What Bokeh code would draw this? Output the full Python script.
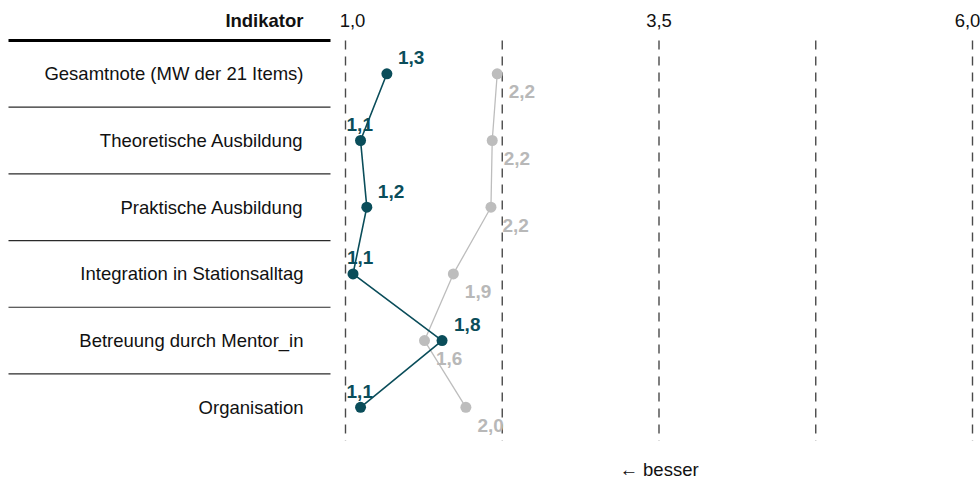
from bokeh.plotting import figure
from bokeh.models import ColumnDataSource, Range1d
from bokeh.core.properties import value
from bokeh.embed import file_html
from bokeh.resources import INLINE

# ---------------- data ----------------
indicators = [
    "Gesamtnote (MW der 21 Items)",
    "Theoretische Ausbildung",
    "Praktische Ausbildung",
    "Integration in Stationsalltag",
    "Betreuung durch Mentor_in",
    "Organisation",
]
teal_values = [1.33, 1.12, 1.17, 1.06, 1.77, 1.12]
gray_values = [2.21, 2.17, 2.16, 1.86, 1.63, 1.96]
tick_values = [1.0, 3.5, 6.0]
tick_labels = ["1,0", "3,5", "6,0"]
grid_values = [1.0, 2.25, 3.5, 4.75, 6.0]
header_text = "Indikator"
axis_note = "← besser"

# ---------------- layout / style ----------------
W, H = 980, 481
X0_PX, PX_PER_UNIT = 345.0, 125.4      # px of x=1.0, px per unit
Y0_PX, ROW_PX = 73.3, 66.7             # px of first row centre, row height
FONT = "Liberation Sans"
TEAL = "#0a4d5a"
GRAY = "#bdbdbd"
GRAY_TXT = "#b8b8b8"
teal_label_dx = [11, -14, 11, -6, 12, -14]
tick_label_dx = [7, 0, -5]


def xd(px):
    return 1.0 + (px - X0_PX) / PX_PER_UNIT


def yd(py):
    return (py - Y0_PX) / ROW_PX


rows = list(range(len(indicators)))

p = figure(
    width=W, height=H, output_backend="svg", toolbar_location=None,
    x_range=Range1d(xd(0), xd(W)), y_range=Range1d(yd(H), yd(0)),
    x_axis_location=None, y_axis_location=None,
    min_border=0, min_border_left=0, min_border_right=0,
    min_border_top=0, min_border_bottom=0,
)
p.outline_line_color = None
p.xgrid.visible = False
p.ygrid.visible = False
p.background_fill_color = "white"
p.border_fill_color = "white"

# table separators
p.segment(x0=[xd(8)] * 5, x1=[xd(330)] * 5, y0=[r + 0.5 for r in rows[:-1]],
          y1=[r + 0.5 for r in rows[:-1]], line_color="#2a2a2a", line_width=1.2)
p.segment(x0=[xd(8)], x1=[xd(330)], y0=[-0.5], y1=[-0.5], line_color="black", line_width=3)

# dashed vertical grid
p.segment(x0=grid_values, x1=grid_values, y0=[-0.5] * len(grid_values),
          y1=[len(rows) - 0.5] * len(grid_values),
          line_color="#4a4a4a", line_width=1.4, line_dash="9 7")

# gray series
gsrc = ColumnDataSource(dict(
    x=gray_values, y=rows,
    lab=[f"{v:.1f}".replace(".", ",") for v in gray_values]))
p.line("x", "y", source=gsrc, line_color=GRAY, line_width=1.3)
p.scatter("x", "y", source=gsrc, size=11, fill_color=GRAY, line_color=None)
p.text("x", "y", text="lab", source=gsrc, x_offset=11.5, y_offset=18,
       text_font=value(FONT), text_font_size="19px", text_font_style="bold",
       text_color=GRAY_TXT, text_align="left", text_baseline="middle")

# teal series
tsrc = ColumnDataSource(dict(
    x=teal_values, y=rows, dx=teal_label_dx,
    lab=[f"{v:.1f}".replace(".", ",") for v in teal_values]))
p.line("x", "y", source=tsrc, line_color=TEAL, line_width=1.6)
p.scatter("x", "y", source=tsrc, size=11, fill_color=TEAL, line_color=None)
p.text("x", "y", text="lab", source=tsrc, x_offset="dx", y_offset=-16,
       text_font=value(FONT), text_font_size="19px", text_font_style="bold",
       text_color=TEAL, text_align="left", text_baseline="middle")

# row labels
p.text(x=[xd(303)] * len(rows), y=rows, text=indicators,
       text_font=value(FONT), text_font_size="18.5px", text_color="#111111",
       text_align="right", text_baseline="middle")

# header
p.text(x=[xd(303)], y=[yd(20)], text=[header_text],
       text_font=value(FONT), text_font_size="18.5px", text_font_style="bold",
       text_color="#111111", text_align="right", text_baseline="middle")

# tick labels on top
ksrc = ColumnDataSource(dict(x=tick_values, y=[yd(20)] * len(tick_values),
                             t=tick_labels, dx=tick_label_dx))
p.text("x", "y", text="t", source=ksrc, x_offset="dx",
       text_font=value(FONT), text_font_size="18.5px", text_color="#111111",
       text_align="center", text_baseline="middle")

# axis note
p.text(x=[tick_values[1]], y=[yd(469)], text=[axis_note],
       text_font=value(FONT), text_font_size="18.5px", text_color="#111111",
       text_align="center", text_baseline="middle")

open("out.html", "w").write(file_html(p, INLINE))
